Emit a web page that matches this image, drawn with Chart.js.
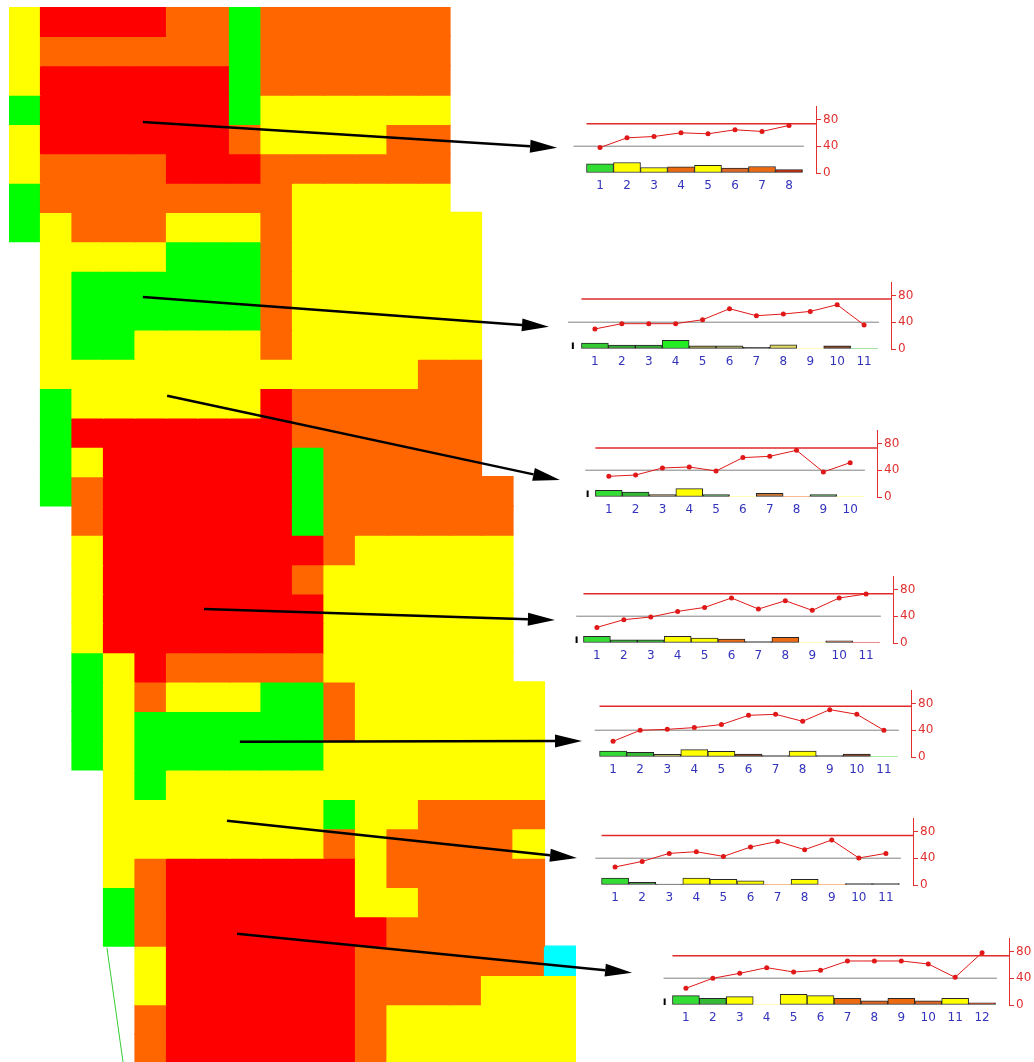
<!DOCTYPE html>
<html>
<head>
<meta charset="utf-8">
<script src="https://cdn.jsdelivr.net/npm/chart.js@4.4.1/dist/chart.umd.min.js"></script>
<style>
  html, body { margin: 0; padding: 0; background: #fff; overflow: hidden; }
  #page { position: relative; width: 1034px; height: 1062px; overflow: hidden; }
  canvas { position: absolute; }
</style>
</head>
<body>
<div id="page">
  <canvas id="heat" width="1034" height="1062" style="left:0;top:0"></canvas>
</div>
<script>
// --- heatmap cells: one string per row, one char per column ('.' = empty) ---
const cellColors = { Y: '#ffff00', R: '#ff0000', O: '#ff6600', G: '#00ff00', C: '#00ffff' };
const gridRows = [
  'YRRRROOGOOOOOO....',
  'YOOOOOOGOOOOOO....',
  'YRRRRRRGOOOOOO....',
  'GRRRRRRGYYYYYY....',
  'YRRRRRROYYYYOO....',
  'YOOOORRROOOOOO....',
  'GOOOOOOOOYYYYY....',
  'GYOOOYYYOYYYYYY...',
  '.YYYYGGGOYYYYYY...',
  '.YGGGGGGOYYYYYY...',
  '.YGGGGGGOYYYYYY...',
  '.YGGYYYYOYYYYYY...',
  '.YYYYYYYYYYYYOO...',
  '.GYYYYYYROOOOOO...',
  '.GRRRRRRROOOOOO...',
  '.GYRRRRRRGOOOOO...',
  '.GORRRRRRGOOOOOO..',
  '..ORRRRRRGOOOOOO..',
  '..YRRRRRRROYYYYY..',
  '..YRRRRRROYYYYYY..',
  '..YRRRRRRRYYYYYY..',
  '..YRRRRRRRYYYYYY..',
  '..GYROOOOOYYYYYY..',
  '..GYOYYYGGOYYYYYY.',
  '..GYGGGGGGOYYYYYY.',
  '..GYGGGGGGYYYYYYY.',
  '...YGYYYYYYYYYYYY.',
  '...YYYYYYYGYYOOOO.',
  '...YYYYYYYOYOOOOY.',
  '...YORRRRRRYOOOOO.',
  '...GORRRRRRYYOOOO.',
  '...GORRRRRRROOOOO.',
  '....YRRRRRROOOOOOC',
  '....YRRRRRROOOOYYY',
  '....ORRRRRROYYYYYY',
  '....ORRRRRROYYYYYY'
];
const gridCols = 18;
const rowsVisible = 35.95;

// arrows, in grid units (column, row) of the heatmap
const arrowFrom = [[4.25, 3.92], [4.25, 9.88], [5.02, 13.25], [6.19, 20.51], [7.33, 25.04], [6.92, 27.73], [7.24, 31.58]];
const arrowTo   = [[17.4, 4.8], [17.14, 10.9], [17.49, 16.12], [17.33, 20.89], [18.19, 25.01], [18.03, 29.0], [19.78, 32.91]];
const greenLine = [[3.11, 32.06], [3.62, 35.95]];

// --- small charts: measured values ---
const s1 = [38, 52.5, 54.5, 60, 58.5, 64.5, 62, 71];
const s2 = [29.9, 37.8, 37.8, 37.8, 43.7, 60.1, 49.7, 52.2, 56.1, 66.1, 35.8];
const s3 = [30.9, 32.8, 43.3, 44.8, 38.8, 58.8, 60.7, 69.7, 37.3, 51.3];
const s4 = [23.3, 34.8, 38.8, 47.2, 53.1, 67.2, 50.7, 63.1, 48.7, 67.2, 73.1];
const s5 = [23.4, 39.9, 41.3, 43.9, 48.4, 62.2, 63.7, 53.3, 70.7, 63.7, 39.9];
const s6 = [26.9, 35.2, 47.2, 49.7, 42.7, 56.7, 65.1, 52.7, 67.2, 40.3, 47.2];
const s7 = [24.9, 39.9, 47.3, 55.7, 49.3, 51.8, 65.7, 65.7, 65.7, 61.2, 41.3, 78.1];

const b1 = [13.7, 15.7, 8.2, 9.3, 11.6, 7.2, 9.7, 5.2];
const b2 = [9, 6, 6, 12.8, 4.9, 4.9, 2.4, 6.4, 1, 4.9, 1];
const b3 = [10, 7.5, 3.6, 12.5, 3.6, 1, 5.5, 1, 3.6, 1];
const b4 = [9.9, 4.9, 4.9, 9.9, 7.5, 6, 2, 8.4, 1, 3.4, 1];
const b5 = [9, 7, 4, 11, 8.5, 4.5, 2, 9, 2, 4.5, 1];
const b6 = [10.4, 3.9, 1.5, 10.4, 8.4, 6.4, 1, 8.4, 1, 2, 2];
const b7 = [13.9, 10, 12.4, 1, 16, 13.9, 10, 6.4, 10, 6.4, 10, 3.4];

const c1 = ['#33dd33', '#ffff00', '#ffff00', '#ee6a10', '#ffff00', '#dd6622', '#ee6a10', '#cc2200'];
const c2 = ['#33cc33', '#33aa33', '#33aa33', '#22ee22', '#a09a48', '#aaaa66', '#222222', '#e0d860', '#ffff88', '#884422', '#66cc66'];
const c3 = ['#33dd33', '#33bb33', '#aa8844', '#ffff00', '#339933', '#ffff88', '#cc7733', '#ee8844', '#339933', '#ffff88'];
const c4 = ['#33dd33', '#33bb33', '#33bb33', '#ffff00', '#ffff00', '#ee6a10', '#222222', '#ee6a10', '#ffff88', '#995533', '#dd3333'];
const c5 = ['#33dd33', '#33bb33', '#bbbb44', '#ffff00', '#ffff00', '#995533', '#222222', '#ffff00', '#222222', '#995533', '#66dd66'];
const c6 = ['#33dd33', '#339933', '#111111', '#ffff00', '#ffff00', '#ffff00', '#ee8833', '#ffff00', '#ee8833', '#111111', '#111111'];
const c7 = ['#33dd33', '#33bb33', '#ffff00', '#ffff88', '#ffff00', '#ffff00', '#ee6a10', '#dd6622', '#ee6a10', '#dd6622', '#ffff00', '#aa2200'];

const seriesList = [s1, s2, s3, s4, s5, s6, s7];
const barsList = [b1, b2, b3, b4, b5, b6, b7];
const colorsList = [c1, c2, c3, c4, c5, c6, c7];
const limitValues = [73.4, 74.6, 73.1, 73.6, 75.7, 74, 73.6];
const targetValue = 40;
const targetStart = [0.02, 0, 0.12, 0.23, 0.32, 0.27, 0.17];
const markerX = [null, 0.18, 0.21, 0.245, null, null, 0.21];

// placement of each small chart (pixel of x=0 and of the 0 baseline)
const panelX0 = [569, 562, 576, 564, 582, 584, 653];
const panelBase = [172.5, 349.3, 496.7, 643.3, 756.7, 885.3, 1005];
const unitPx = 27.4, axisW = 36, padTop = 8, plotH = 67, labelH = 22;

// --- heatmap ---
const colLabels = Array.from({ length: gridCols }, (_, c) => 'c' + (c + 1));
const heatDatasets = gridRows.map((row, r) => ({
  data: row.split('').map(ch => ch === '.' ? null : [r, r + 1]),
  backgroundColor: row.split('').map(ch => cellColors[ch] || 'rgba(0,0,0,0)'),
  borderWidth: 0,
  inflateAmount: 0.6,
  barPercentage: 1,
  categoryPercentage: 1,
  grouped: false
}));

const arrowPlugin = {
  id: 'arrows',
  afterDatasetsDraw(chart) {
    const xs = chart.scales.x, ys = chart.scales.y, ctx = chart.ctx;
    const px = g => [xs.getPixelForValue(g[0] - 0.5), ys.getPixelForValue(g[1])];
    ctx.save();
    // thin green guide line
    const g0 = px(greenLine[0]), g1 = px(greenLine[1]);
    ctx.strokeStyle = '#33cc33';
    ctx.lineWidth = 1;
    ctx.beginPath(); ctx.moveTo(g0[0], g0[1]); ctx.lineTo(g1[0], g1[1]); ctx.stroke();

    ctx.strokeStyle = '#000';
    ctx.fillStyle = '#000';
    arrowFrom.forEach((f, i) => {
      const a = px(f), b = px(arrowTo[i]);
      const ang = Math.atan2(b[1] - a[1], b[0] - a[0]);
      const hl = 27, hw = 6.5;
      const bx = b[0] - hl * Math.cos(ang), by = b[1] - hl * Math.sin(ang);
      ctx.lineWidth = 2.5;
      ctx.beginPath(); ctx.moveTo(a[0], a[1]); ctx.lineTo(bx, by); ctx.stroke();
      ctx.beginPath();
      ctx.moveTo(b[0], b[1]);
      ctx.lineTo(bx + hw * Math.sin(ang), by - hw * Math.cos(ang));
      ctx.lineTo(bx - hw * Math.sin(ang), by + hw * Math.cos(ang));
      ctx.closePath(); ctx.fill();
    });
    ctx.restore();
  }
};

new Chart(document.getElementById('heat'), {
  type: 'bar',
  data: { labels: colLabels, datasets: heatDatasets },
  options: {
    responsive: false,
    animation: false,
    devicePixelRatio: 1,
    layout: { padding: { left: 9, top: 7, right: 1034 - 9 - gridCols * 31.5, bottom: 0 } },
    plugins: { legend: { display: false }, tooltip: { enabled: false } },
    scales: {
      x: { display: false },
      y: { display: false, reverse: true, min: 0, max: rowsVisible }
    }
  },
  plugins: [arrowPlugin]
});

// --- small charts ---
function buildPanel(i) {
  const series = seriesList[i], bars = barsList[i], cols = colorsList[i];
  const n = series.length;
  const plotW = Math.round(unitPx * (n + 1));
  const cv = document.createElement('canvas');
  cv.width = plotW + axisW;
  cv.height = padTop + plotH + labelH;
  cv.style.left = panelX0[i] + 'px';
  cv.style.top = Math.round(panelBase[i] - plotH - padTop) + 'px';
  document.getElementById('page').appendChild(cv);

  const datasets = [
    {
      type: 'line', data: series.map((v, k) => ({ x: k + 1, y: v })),
      borderColor: '#e01818', borderWidth: 1, pointRadius: 2.5, pointBorderWidth: 0,
      pointBackgroundColor: '#e01818', order: 0
    },
    {
      type: 'line', data: [{ x: 0.5, y: limitValues[i] }, { x: n + 1, y: limitValues[i] }],
      borderColor: '#e02a2a', borderWidth: 1.5, pointRadius: 0, order: 1
    },
    {
      type: 'line', data: [{ x: targetStart[i], y: targetValue }, { x: n + 0.55, y: targetValue }],
      borderColor: '#808080', borderWidth: 1, pointRadius: 0, order: 2
    },
    {
      type: 'bar', data: bars.map((v, k) => ({ x: k + 1, y: v })),
      backgroundColor: cols,
      borderColor: bars.map((v, k) => v <= 1.5 ? cols[k] : '#262626'),
      borderWidth: 1, borderSkipped: false, barPercentage: 1, categoryPercentage: 1, order: 3
    }
  ];
  if (markerX[i] !== null) {
    datasets.push({
      type: 'line', showLine: false, data: [{ x: markerX[i], y: 4.5 }],
      pointStyle: 'line', rotation: 90, pointRadius: 3.5, pointBorderWidth: 2,
      borderColor: '#000', pointBorderColor: '#000', order: 0
    });
  }

  new Chart(cv, {
    type: 'bar',
    data: { datasets },
    options: {
      responsive: false,
      animation: false,
      devicePixelRatio: 1,
      layout: { padding: { top: padTop, left: 0, right: 0, bottom: 0 } },
      plugins: { legend: { display: false }, tooltip: { enabled: false } },
      scales: {
        x: {
          type: 'linear', min: 0, max: n + 1, offset: false,
          grid: { display: false, drawTicks: false },
          border: { display: false },
          ticks: {
            stepSize: 1, autoSkip: false, maxRotation: 0, padding: 6,
            color: '#3333bb', font: { family: 'DejaVu Sans', size: 12 },
            callback: v => (v >= 1 && v <= n) ? String(v) : ''
          },
          afterFit: s => { s.height = labelH; s.paddingLeft = 0; s.paddingRight = 0; }
        },
        y: {
          position: 'right', min: 0, max: 100,
          grid: { drawOnChartArea: false, color: '#e03030', tickLength: 5 },
          border: { color: '#e03030', width: 1 },
          ticks: {
            stepSize: 20, padding: 2, color: '#e03030',
            font: { family: 'DejaVu Sans', size: 12 },
            callback: v => (v % 40 === 0 && v <= 80) ? String(v) : ''
          },
          afterFit: s => { s.width = axisW; s.paddingTop = 0; s.paddingBottom = 0; }
        }
      }
    }
  });
}

seriesList.forEach((_, i) => buildPanel(i));
</script>
</body>
</html>
